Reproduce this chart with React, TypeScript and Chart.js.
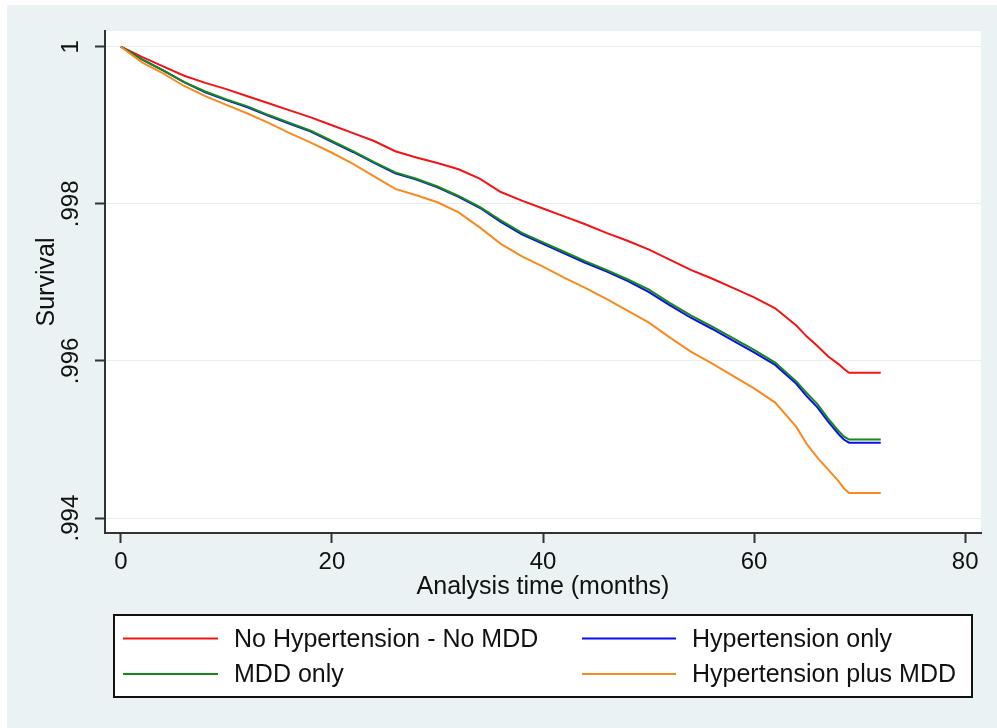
import React, { useEffect, useRef } from 'react';
import { Chart, registerables } from 'chart.js';

Chart.register(...registerables);

const FONT = '"Liberation Sans", Arial, Helvetica, sans-serif';

const months = [0, 2, 4, 6, 8, 10, 12, 14, 16, 18, 20, 22, 24, 26, 28, 30, 32, 34, 36, 38, 40, 42, 44, 46, 48, 50, 52, 54, 56, 58, 60, 62, 64, 65, 66, 67, 68, 68.5, 69, 72];

const noHypNoMdd = [1, 0.99987, 0.99975, 0.99963, 0.99954, 0.99946, 0.99937, 0.99928, 0.99919, 0.9991,
  0.999, 0.9989, 0.9988, 0.99867, 0.99859, 0.99852, 0.99844, 0.99832, 0.99815, 0.99804,
  0.99794, 0.99784, 0.99774, 0.99763, 0.99753, 0.99742, 0.99729, 0.99716, 0.99705, 0.99693,
  0.99681, 0.99667, 0.99645, 0.99631, 0.99619, 0.99606, 0.99596, 0.9959, 0.99585, 0.99585];

const hypOnly = [1, 0.99984, 0.9997, 0.99955, 0.99942, 0.99932, 0.99923, 0.99912, 0.99902, 0.99892,
  0.99879, 0.99866, 0.99852, 0.99839, 0.99831, 0.99821, 0.99809, 0.99795, 0.99777, 0.99761,
  0.99749, 0.99737, 0.99725, 0.99714, 0.99702, 0.99688, 0.99671, 0.99655, 0.99641, 0.99626,
  0.99611, 0.99595, 0.99571, 0.99555, 0.99541, 0.99523, 0.99507, 0.995, 0.99496, 0.99496];

const mddOnly = [1, 0.99984, 0.9997, 0.99955, 0.99943, 0.99933, 0.99924, 0.99913, 0.99903, 0.99893,
  0.9988, 0.99867, 0.99853, 0.9984, 0.99832, 0.99822, 0.9981, 0.99796, 0.99779, 0.99763,
  0.99751, 0.99739, 0.99727, 0.99716, 0.99704, 0.99691, 0.99674, 0.99658, 0.99644, 0.99629,
  0.99614, 0.99598, 0.99574, 0.99559, 0.99545, 0.99527, 0.99511, 0.99504, 0.995, 0.995];

const hypPlusMdd = [1, 0.9998, 0.99966, 0.9995, 0.99937, 0.99926, 0.99915, 0.99903, 0.9989, 0.99878,
  0.99865, 0.99851, 0.99835, 0.99819, 0.99811, 0.99802, 0.99789, 0.9977, 0.99749, 0.99733,
  0.9972, 0.99706, 0.99693, 0.99679, 0.99664, 0.99649, 0.9963, 0.99612, 0.99597, 0.99581,
  0.99565, 0.99547, 0.99516, 0.99494, 0.99477, 0.99462, 0.99447, 0.99438, 0.99432, 0.99432];

const seriesLabels = ['No Hypertension - No MDD', 'Hypertension only', 'MDD only', 'Hypertension plus MDD'];
const seriesColors = ['#f21414', '#0c0cf5', '#168a16', '#fa8a1e'];
const seriesValues = [noHypNoMdd, hypOnly, mddOnly, hypPlusMdd];
const seriesOrder = [4, 3, 2, 1];

const xTicks = [0, 20, 40, 60, 80];
const yTicks = [0.994, 0.996, 0.998, 1];
const yTickLabels = ['.994', '.996', '.998', '1'];

const chartAreaBg = {
  id: 'chartAreaBg',
  beforeDraw(chart: any) {
    const { ctx, chartArea } = chart;
    ctx.save();
    ctx.fillStyle = '#ffffff';
    ctx.fillRect(chartArea.left, chartArea.top, chartArea.right - chartArea.left, chartArea.bottom - chartArea.top);
    ctx.restore();
  },
};

const boxLegend = {
  id: 'boxLegend',
  afterDraw(chart: any) {
    const { ctx } = chart;
    const l = 107, t = 610, r = 965, b = 692;
    ctx.save();
    ctx.fillStyle = '#ffffff';
    ctx.fillRect(l, t, r - l, b - t);
    ctx.strokeStyle = '#111111';
    ctx.lineWidth = 2;
    ctx.strokeRect(l, t, r - l, b - t);
    const rowY = [633.5, 669];
    const lineX = [[116, 211], [575, 669]];
    const textX = [227, 685];
    ctx.font = `25px ${FONT}`;
    ctx.textBaseline = 'middle';
    ctx.textAlign = 'left';
    chart.data.datasets.forEach((ds: any, i: number) => {
      const col = i % 2;
      const row = Math.floor(i / 2);
      ctx.strokeStyle = ds.borderColor;
      ctx.lineWidth = 2;
      ctx.beginPath();
      ctx.moveTo(lineX[col][0], rowY[row]);
      ctx.lineTo(lineX[col][1], rowY[row]);
      ctx.stroke();
      ctx.fillStyle = '#111111';
      ctx.fillText(ds.label, textX[col], rowY[row] + 1.5);
    });
    ctx.restore();
  },
};

export default function App() {
  const canvasRef = useRef<HTMLCanvasElement | null>(null);

  useEffect(() => {
    if (!canvasRef.current) return;
    const chart = new Chart(canvasRef.current, {
      type: 'line',
      data: {
        datasets: seriesLabels.map((label, i) => ({
          label,
          data: months.map((m, j) => ({ x: m, y: seriesValues[i][j] })),
          borderColor: seriesColors[i],
          backgroundColor: seriesColors[i],
          borderWidth: 2,
          pointRadius: 0,
          tension: 0,
          fill: false,
          order: seriesOrder[i],
        })),
      },
      options: {
        animation: false,
        responsive: false,
        maintainAspectRatio: false,
        events: [],
        layout: { padding: { left: 0, top: 26, right: 16, bottom: 126 } },
        plugins: { legend: { display: false }, tooltip: { enabled: false } },
        scales: {
          x: {
            type: 'linear',
            min: -1.5,
            max: 81.5,
            afterBuildTicks: (s: any) => { s.ticks = xTicks.map((v) => ({ value: v })); },
            afterFit: (s: any) => { s.height = 69; },
            grid: { drawOnChartArea: false, drawTicks: true, tickLength: 10, tickColor: '#333333', tickWidth: 2 },
            border: { display: true, color: '#333333', width: 2 },
            ticks: {
              font: { family: FONT, size: 24 },
              color: '#111111',
              padding: 5,
              maxRotation: 0,
              autoSkip: false,
              callback: (v: any) => String(v),
            },
            title: {
              display: true,
              text: 'Analysis time (months)',
              font: { family: FONT, size: 25 },
              color: '#111111',
              padding: { top: 0, bottom: 0 },
            },
          },
          y: {
            type: 'linear',
            min: 0.99381,
            max: 1.0002,
            afterBuildTicks: (s: any) => { s.ticks = yTicks.map((v) => ({ value: v })); },
            afterFit: (s: any) => { s.width = 98; },
            grid: { color: '#e6eef1', lineWidth: 1, drawTicks: true, tickLength: 10, tickColor: '#333333', tickWidth: 2 },
            border: { display: true, color: '#333333', width: 2 },
            ticks: {
              font: { family: FONT, size: 24 },
              color: '#111111',
              padding: 0,
              minRotation: 90,
              maxRotation: 90,
              crossAlign: 'center',
              autoSkip: false,
              callback: (v: any) => {
                const idx = yTicks.findIndex((t) => Math.abs(t - v) < 1e-9);
                return idx >= 0 ? yTickLabels[idx] : '';
              },
            },
            title: {
              display: true,
              text: 'Survival',
              font: { family: FONT, size: 25 },
              color: '#111111',
              padding: { top: 25, bottom: 0 },
            },
          },
        },
      } as any,
      plugins: [chartAreaBg, boxLegend],
    });
    return () => chart.destroy();
  }, []);

  return (
    <div style={{ position: 'absolute', left: 7, top: 5, width: 990, height: 723, background: '#eaf2f3' }}>
      <canvas ref={canvasRef} width={990} height={723} style={{ display: 'block', width: 990, height: 723 }} />
    </div>
  );
}
